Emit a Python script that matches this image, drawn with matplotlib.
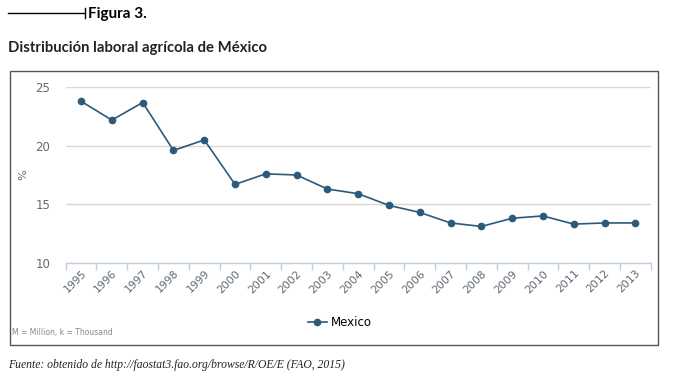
import matplotlib
matplotlib.use("Agg")
import matplotlib.pyplot as plt
from matplotlib.patches import Rectangle
from matplotlib.lines import Line2D

years = ["1995", "1996", "1997", "1998", "1999", "2000", "2001", "2002", "2003", "2004",
         "2005", "2006", "2007", "2008", "2009", "2010", "2011", "2012", "2013"]
values = [23.8, 22.2, 23.7, 19.6, 20.5, 16.7, 17.6, 17.5, 16.3, 15.9,
          14.9, 14.3, 13.4, 13.1, 13.8, 14.0, 13.3, 13.4, 13.4]
yticks = [10, 15, 20, 25]
series_name = "Mexico"

W, H = 677, 376
fig = plt.figure(figsize=(W / 100, H / 100), dpi=100)
fig.patch.set_facecolor("white")

def fx(px):
    return px / W

def fy(py):
    return 1 - py / H

line_color = "#2b5a7a"
label_color = "#606a73"
title_fam = ["Lato", "DejaVu Sans"]

# Outer chart box
fig.patches.append(Rectangle((fx(10), fy(345)), fx(658) - fx(10), fy(71) - fy(345),
                             transform=fig.transFigure, fill=False,
                             edgecolor="#555555", linewidth=1.0))

# Header line + Figura label
fig.add_artist(Line2D([fx(8), fx(85)], [fy(13), fy(13)], transform=fig.transFigure,
                      color="black", linewidth=1.0))
fig.add_artist(Line2D([fx(85), fx(85)], [fy(8), fy(18)], transform=fig.transFigure,
                      color="black", linewidth=1.0))
fig.text(fx(88), fy(14), "Figura 3.", fontsize=11, fontweight="bold",
         family=title_fam, va="center", ha="left")
fig.text(fx(8), fy(48), "Distribución laboral agrícola de México", fontsize=10.7,
         fontweight="bold", family=title_fam, va="center", ha="left", color="#222222")

# Axes
left, right = 65.7, 650.7
top, bottom = 87.3, 262.7
ax = fig.add_axes([fx(left), fy(bottom), fx(right) - fx(left), fy(top) - fy(bottom)])
x = list(range(len(years)))
ax.plot(x, values, color=line_color, linewidth=1.2, marker="o", markersize=4.5,
        markerfacecolor=line_color, markeredgecolor=line_color, clip_on=False,
        label=series_name, zorder=3)
ax.set_xlim(-0.5, len(years) - 0.5)
ax.set_ylim(10, 25)
ax.set_yticks(yticks)
ax.set_yticklabels([str(v) for v in yticks])
ax.grid(axis="y", color="#d8d8d8", linewidth=1.0)
ax.set_axisbelow(True)
for s in ["top", "right", "left"]:
    ax.spines[s].set_visible(False)
ax.spines["bottom"].set_color("#c0d0e0")
ax.spines["bottom"].set_linewidth(1.0)
ax.tick_params(axis="y", length=0, labelsize=8.5, labelcolor=label_color, pad=11)
ax.set_xticks(x)
ax.set_xticklabels(years, rotation=45, ha="right", va="top", rotation_mode="anchor")
ax.tick_params(axis="x", which="major", length=0, labelsize=7.8, labelcolor=label_color, pad=4)
ax.set_xticks([i - 0.5 for i in range(len(years) + 1)], minor=True)
ax.tick_params(axis="x", which="minor", length=5, color="#c0d0e0", width=1)
ax.set_ylabel("%", fontsize=8, color=label_color)
ax.yaxis.set_label_coords((28 - left) / (right - left), (bottom - 175) / (bottom - top))

# Legend
leg = fig.legend(handles=[Line2D([0], [0], color=line_color, marker="o", markersize=4.5,
                                 linewidth=1.2, label=series_name)],
                 loc="center", bbox_to_anchor=(fx(340), fy(323)), frameon=False,
                 fontsize=8.5, handlelength=1.6, handletextpad=0.4)

fig.text(fx(12), fy(333), "M = Million, k = Thousand", fontsize=5.5, color="#888888",
         va="center", ha="left")

fig.text(fx(8), fy(365), "Fuente: obtenido de http://faostat3.fao.org/browse/R/OE/E (FAO, 2015)",
         fontsize=8.4, style="italic", family=["Liberation Serif", "DejaVu Serif"],
         va="center", ha="left", color="#222222")

fig.savefig("out.png", dpi=100)
